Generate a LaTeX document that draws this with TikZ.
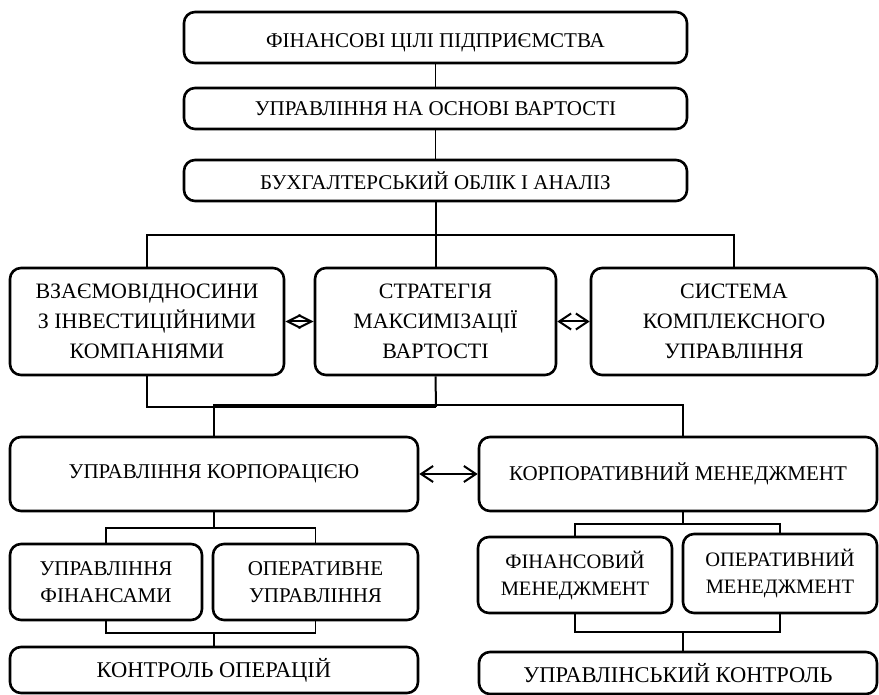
\documentclass[tikz,border=0pt]{standalone}
\usepackage{fontspec}
\setmainfont{Liberation Serif}
\usetikzlibrary{arrows.meta}
\tikzset{
  box/.style={draw, line width=2.6pt, rounded corners=11pt, align=center, inner sep=0pt, anchor=center},
  fs/.style={font=\fontsize{21}{26}\selectfont},
  fm/.style={font=\fontsize{22}{30}\selectfont},
  fl/.style={font=\fontsize{21}{27}\selectfont},
  fr/.style={font=\fontsize{20.5}{27}\selectfont},
  fb/.style={font=\fontsize{22.5}{27}\selectfont},
  conn/.style={line width=1.2pt},
  thk/.style={line width=2pt},
  dbl/.style={line width=2pt, {Straight Barb[length=12pt,width=16pt,line width=2pt]}-{Straight Barb[length=12pt,width=16pt,line width=2pt]}},
  dia/.style={line width=2pt, {Straight Barb[length=13pt,width=13pt,line width=2pt]}-{Straight Barb[length=13pt,width=13pt,line width=2pt]}},
}
\begin{document}
\begin{tikzpicture}[x=1pt,y=-1pt]
\useasboundingbox (0,0) rectangle (879,695);
% top column
\node[box,fs,minimum width=503pt,minimum height=51pt,text height=24pt,text depth=4pt] (b1) at (435.5,37.5) {ФІНАНСОВІ ЦІЛІ ПІДПРИЄМСТВА};
\node[box,fs,minimum width=503pt,minimum height=41pt] (b2) at (435.5,108.5) {УПРАВЛІННЯ НА ОСНОВІ ВАРТОСТІ};
\node[box,fs,minimum width=503pt,minimum height=41pt] (b3) at (435.5,180.5) {БУХГАЛТЕРСЬКИЙ ОБЛІК І АНАЛІЗ};
% middle row
\node[box,fm,minimum width=274pt,minimum height=107pt] (m1) at (147,321.5) {ВЗАЄМОВІДНОСИНИ\\З ІНВЕСТИЦІЙНИМИ\\КОМПАНІЯМИ};
\node[box,fm,minimum width=241pt,minimum height=107pt] (m2) at (435.5,321.5) {СТРАТЕГІЯ\\МАКСИМІЗАЦІЇ\\ВАРТОСТІ};
\node[box,fm,minimum width=286pt,minimum height=107pt] (m3) at (734,321.5) {СИСТЕМА\\КОМПЛЕКСНОГО\\УПРАВЛІННЯ};
% corporate row
\node[box,fl,minimum width=408pt,minimum height=74pt] (c1) at (214,474) {УПРАВЛІННЯ КОРПОРАЦІЄЮ};
\node[box,fl,minimum width=398pt,minimum height=74pt] (c2) at (678,474) {КОРПОРАТИВНИЙ МЕНЕДЖМЕНТ};
% left sub
\node[box,fl,minimum width=192pt,minimum height=76pt] (l1) at (106,582) {УПРАВЛІННЯ\\ФІНАНСАМИ};
\node[box,fl,minimum width=205pt,minimum height=76pt] (l2) at (315.5,582) {ОПЕРАТИВНЕ\\УПРАВЛІННЯ};
\node[box,fb,minimum width=408pt,minimum height=46pt] (l3) at (214,670) {КОНТРОЛЬ ОПЕРАЦІЙ};
% right sub
\node[box,fr,minimum width=194pt,minimum height=76pt] (r1) at (575,575) {ФІНАНСОВИЙ\\МЕНЕДЖМЕНТ};
\node[box,fr,minimum width=194pt,minimum height=79pt] (r2) at (780,573.5) {ОПЕРАТИВНИЙ\\МЕНЕДЖМЕНТ};
\node[box,fb,minimum width=398pt,minimum height=42pt] (r3) at (678,673) {УПРАВЛІНСЬКИЙ КОНТРОЛЬ};
% junction coordinates
\coordinate (t1) at (436,235);
\coordinate (u1) at (436,407);
\coordinate (u2) at (436,405);
\coordinate (cx) at (683,405);
\coordinate (j1) at (214,528);
\coordinate (j2) at (214,633);
\coordinate (j3) at (683,524);
\coordinate (j4) at (683,632);
% connectors top
\draw[conn] (b1) -- (b2);
\draw[conn] (b2) -- (b3);
\draw[thk] (b3.south) -- (m2.north);
\draw[conn] (m1.north) |- (t1) -| (m3.north);
% arrows
\draw[dia] (m1.east) -- (m2.west);
\draw[dbl] (m2.east) -- (m3.west);
\draw[dbl] (c1.east) -- (c2.west);
% middle to corporate
\draw[conn] (m1.south) |- (u1);
\draw[thk] (m2.south) -- (u1);
\draw[conn] (c1.north) |- (u2) -- (cx) -- (c2.north -| cx);
% left sub
\draw[conn] (c1.south) -- (j1);
\draw[conn] (l1.north) |- (j1) -| (l2.north);
\draw[conn] (l1.south) |- (j2) -| (l2.south);
\draw[conn] (j2) -- (l3.north);
% right sub
\draw[conn] (c2.south -| j3) -- (j3);
\draw[conn] (r1.north) |- (j3) -| (r2.north);
\draw[conn] (r1.south) |- (j4) -| (r2.south);
\draw[conn] (j4) -- (r3.north -| j4);
\end{tikzpicture}
\end{document}
